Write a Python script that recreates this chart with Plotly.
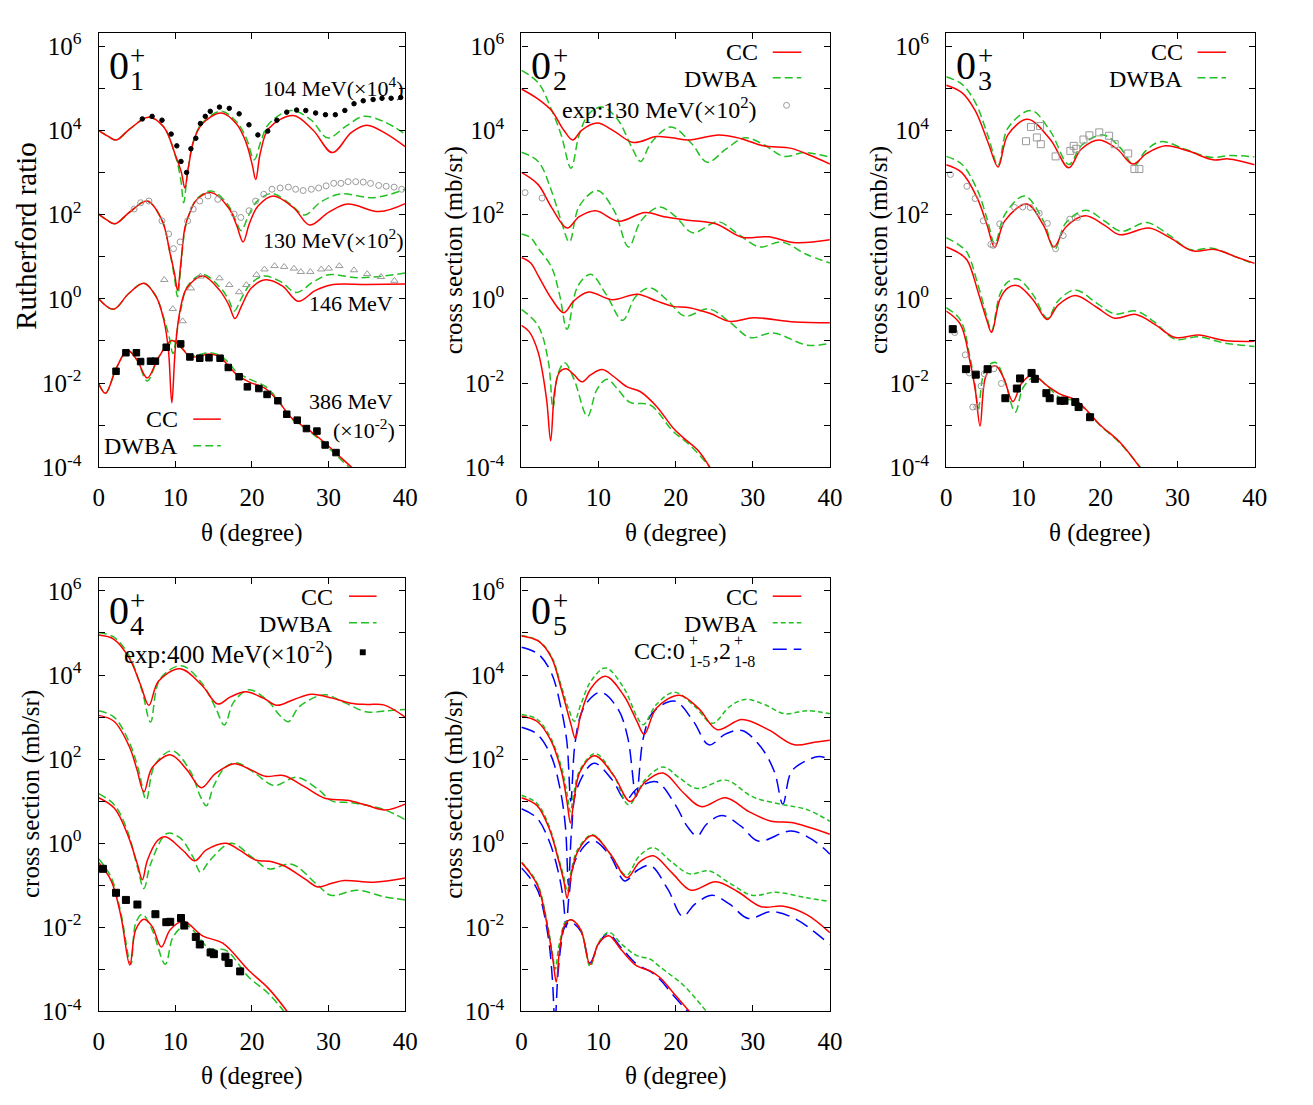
import plotly.graph_objects as go

# ------------------------------------------------------------------
# DATA  (angles in degree, values given as log10 of the plotted value)
# ------------------------------------------------------------------
X_TICKS = [0, 10, 20, 30, 40]
Y_EXPONENTS = list(range(-4, 7))

# ---- panel 1 : 0_1^+  (Rutherford ratio) ----
P1_TH_104_CC = [0, 1.2, 2.3, 4.0, 6.5, 8.5, 10.0, 10.8, 11.25, 11.7, 12.4, 13.5, 16.0, 18.0, 19.2, 20.05, 20.5, 21.1, 22.2, 25.4, 28.0, 30.5, 33.0, 35.0, 37.5, 40]
P1_LG_104_CC = [4.00, 3.86, 3.77, 4.02, 4.31, 4.08, 3.42, 3.00, 2.63, 3.10, 3.75, 4.15, 4.41, 4.15, 3.73, 3.18, 2.83, 3.46, 4.04, 4.35, 4.00, 3.47, 3.95, 4.12, 3.92, 3.61]
P1_TH_104_DW = [0, 1.2, 2.3, 4.0, 6.5, 8.5, 10.0, 10.7, 11.1, 11.6, 12.4, 13.5, 16.0, 18.0, 19.3, 20.3, 21.2, 22.2, 25.1, 27.7, 29.9, 32.3, 34.6, 37.3, 40]
P1_LG_104_DW = [4.00, 3.86, 3.77, 4.02, 4.31, 4.08, 3.40, 2.85, 2.28, 3.00, 3.75, 4.17, 4.45, 4.20, 3.80, 3.30, 3.75, 4.15, 4.47, 4.25, 3.82, 4.10, 4.33, 4.20, 3.91]
P1_TH_104_EXP = [5.70, 6.98, 8.27, 9.47, 10.2, 10.75, 11.48, 12.04, 12.68, 13.28, 13.92, 14.57, 15.77, 17.05, 18.34, 19.62, 20.78, 22.07, 23.26, 24.55, 25.84, 27.03, 28.32, 29.6, 30.89, 32.13, 33.33, 34.53, 35.82, 36.98, 38.17, 39.42]
P1_LG_104_EXP = [4.27, 4.33, 4.24, 3.91, 3.63, 3.26, 3.00, 3.56, 3.81, 4.16, 4.33, 4.45, 4.55, 4.52, 4.39, 4.13, 3.89, 3.98, 4.24, 4.43, 4.48, 4.47, 4.41, 4.37, 4.37, 4.47, 4.63, 4.70, 4.73, 4.76, 4.76, 4.78]

P1_TH_130_CC = [0, 1.0, 2.14, 4.0, 6.34, 8.3, 9.3, 9.9, 10.3, 10.7, 11.27, 11.9, 12.8, 14.7, 17.0, 18.0, 18.85, 19.7, 20.8, 22.8, 25.5, 27.55, 30.0, 32.5, 36.6, 40]
P1_LG_130_CC = [2.01, 1.88, 1.78, 2.05, 2.32, 1.85, 1.10, 0.60, 0.20, 0.80, 1.70, 2.05, 2.35, 2.52, 2.15, 1.75, 1.35, 1.80, 2.20, 2.44, 2.15, 1.75, 2.05, 2.25, 2.07, 2.26]
P1_TH_130_DW = [0, 1.0, 2.14, 4.0, 6.34, 8.3, 9.3, 9.9, 10.3, 10.7, 11.27, 11.9, 12.8, 14.7, 16.8, 17.8, 18.6, 19.5, 20.6, 22.6, 25.0, 26.9, 29.0, 31.6, 35.9, 40]
P1_LG_130_DW = [2.01, 1.88, 1.78, 2.05, 2.32, 1.85, 1.10, 0.50, 0.05, 0.70, 1.65, 2.05, 2.37, 2.56, 2.25, 1.90, 1.62, 1.95, 2.30, 2.50, 2.25, 1.99, 2.30, 2.49, 2.40, 2.60]
P1_TH_130_EXP = [4.63, 5.49, 6.56, 8.27, 9.13, 9.77, 10.63, 11.61, 12.34, 13.2, 14.27, 15.55, 17.69, 18.55, 19.62, 20.48, 21.55, 22.62, 23.69, 24.76, 25.71, 26.69, 27.76, 28.71, 29.69, 30.68, 31.62, 32.56, 33.55, 34.53, 35.48, 36.55, 37.53, 38.56, 39.55]
P1_LG_130_EXP = [2.13, 2.28, 2.32, 1.85, 1.54, 1.19, 1.35, 1.85, 2.13, 2.32, 2.44, 2.36, 2.01, 1.93, 2.09, 2.32, 2.48, 2.60, 2.63, 2.65, 2.60, 2.57, 2.60, 2.63, 2.68, 2.74, 2.74, 2.78, 2.78, 2.77, 2.74, 2.69, 2.67, 2.65, 2.60]

P1_TH_146_CC = [0, 1.93, 3.9, 5.9, 7.5, 8.5, 9.1, 9.55, 10.0, 10.6, 11.5, 13.6, 15.8, 17.0, 17.8, 18.7, 19.9, 21.8, 24.0, 26.05, 28.3, 30.3, 35.0, 40]
P1_LG_146_CC = [0.0, -0.25, 0.12, 0.37, 0.05, -0.5, -1.2, -2.47, -1.2, -0.3, 0.25, 0.54, 0.2, -0.15, -0.47, -0.15, 0.25, 0.45, 0.3, -0.06, 0.2, 0.33, 0.34, 0.35]
P1_TH_146_DW = [0, 1.93, 3.9, 5.9, 7.5, 8.5, 9.2, 9.7, 10.2, 10.8, 11.6, 13.6, 15.8, 16.9, 17.7, 18.6, 19.8, 21.6, 23.8, 25.8, 28.0, 30.0, 34.0, 40]
P1_LG_146_DW = [0.0, -0.25, 0.12, 0.37, 0.05, -0.45, -0.9, -1.3, -0.8, -0.2, 0.3, 0.58, 0.28, 0.0, -0.29, 0.0, 0.35, 0.54, 0.4, 0.15, 0.4, 0.57, 0.50, 0.61]
P1_TH_146_EXP = [8.57, 9.68, 10.97, 12.04, 13.28, 15.77, 17.05, 18.34, 19.28, 20.61, 21.64, 22.96, 24.21, 25.49, 26.39, 27.63, 29.05, 30.03, 31.41, 33.33, 35.05, 36.85, 38.6]
P1_LG_146_EXP = [0.45, -0.24, -0.53, 0.25, 0.53, 0.49, 0.33, 0.16, 0.33, 0.57, 0.70, 0.78, 0.76, 0.72, 0.64, 0.64, 0.70, 0.72, 0.78, 0.68, 0.59, 0.52, 0.43]

P1_TH_386 = [0, 0.9, 2.3, 3.77, 5.0, 6.34, 7.8, 9.55, 11.0, 11.9, 13.0, 14.48, 15.77, 17.0, 17.9, 19.6, 21.77, 23.48, 25.19, 27.33, 29.48, 31.62, 33.33]
P1_LG_386_CC = [-2.01, -2.24, -1.65, -1.23, -1.45, -1.88, -1.4, -0.99, -1.2, -1.38, -1.37, -1.31, -1.38, -1.6, -1.78, -1.97, -2.13, -2.44, -2.83, -3.10, -3.41, -3.77, -4.05]
P1_LG_386_DW = [-2.01, -2.24, -1.65, -1.23, -1.45, -1.95, -1.4, -0.99, -1.2, -1.36, -1.33, -1.28, -1.34, -1.52, -1.72, -1.90, -2.08, -2.42, -2.85, -3.12, -3.45, -3.82, -4.10]
P1_TH_386_EXP = [2.27, 3.56, 4.93, 5.48, 6.77, 7.41, 8.82, 10.71, 11.91, 13.2, 14.4, 15.85, 16.92, 18.34, 19.41, 20.91, 21.98, 23.39, 24.55, 25.92, 27.12, 28.49, 29.56, 30.98]
P1_LG_386_EXP = [-1.72, -1.28, -1.28, -1.49, -1.48, -1.48, -1.15, -1.07, -1.38, -1.41, -1.40, -1.41, -1.63, -1.85, -2.09, -2.13, -2.27, -2.42, -2.74, -2.88, -3.08, -3.14, -3.47, -3.65]

# ---- panel 2 : 0_2^+ ----
P2_TH_G1_CC = [0, 2.17, 3.9, 5.5, 6.65, 7.8, 9.84, 12.0, 14.5, 17.5, 19.5, 21.77, 25.6, 28.5, 31.35, 35.0, 37.5, 40]
P2_LG_G1_CC = [4.98, 4.74, 4.47, 4.00, 3.77, 4.00, 4.17, 3.98, 3.71, 3.85, 3.82, 3.77, 3.89, 3.80, 3.63, 3.57, 3.40, 3.20]
P2_TH_G1_DW = [0, 2.17, 3.9, 5.15, 6.43, 7.5, 8.8, 10.5, 12.5, 14.3, 15.46, 16.8, 19.4, 22.0, 24.1, 26.5, 29.0, 31.5, 34.0, 36.7, 40]
P2_LG_G1_DW = [5.42, 5.13, 4.49, 3.89, 3.10, 3.90, 4.40, 4.55, 4.25, 3.60, 3.26, 3.70, 4.08, 3.70, 3.24, 3.55, 3.82, 3.65, 3.38, 3.47, 3.36]
P2_TH_G2_CC = [0, 2.17, 3.9, 5.92, 7.5, 9.63, 12.61, 16.02, 18.5, 21.35, 25.2, 28.6, 32.0, 35.6, 40]
P2_LG_G2_CC = [3.00, 2.71, 2.17, 1.68, 1.95, 2.09, 1.84, 2.05, 1.95, 1.87, 1.78, 1.46, 1.47, 1.33, 1.40]
P2_TH_G2_DW = [0, 2.17, 3.9, 5.15, 6.22, 7.5, 9.84, 12.0, 13.9, 15.5, 17.93, 20.0, 22.2, 25.5, 28.0, 30.9, 33.7, 37.0, 40]
P2_LG_G2_DW = [3.48, 3.26, 2.56, 1.85, 1.35, 2.20, 2.57, 2.10, 1.23, 1.85, 2.18, 1.95, 1.57, 1.83, 1.55, 1.23, 1.35, 1.05, 0.85]
P2_TH_G3_CC = [0, 1.2, 2.17, 3.9, 5.5, 6.8, 8.69, 11.76, 15.04, 17.5, 19.64, 21.77, 24.5, 27.1, 30.1, 35.4, 40]
P2_LG_G3_CC = [0.98, 0.85, 0.55, 0.0, -0.33, -0.05, 0.16, -0.02, 0.11, -0.05, -0.18, -0.21, -0.35, -0.54, -0.45, -0.55, -0.57]
P2_TH_G3_DW = [0, 1.2, 2.17, 3.9, 4.94, 5.92, 7.3, 8.99, 11.0, 13.12, 14.8, 16.66, 19.0, 21.13, 24.3, 27.0, 29.65, 32.6, 37.1, 40]
P2_LG_G3_DW = [1.54, 1.45, 1.20, 0.75, 0.10, -0.72, 0.30, 0.58, 0.10, -0.51, 0.05, 0.26, -0.05, -0.41, -0.24, -0.55, -0.92, -0.81, -1.10, -1.06]
P2_TH_G4_CC = [0, 1.0, 2.17, 3.24, 3.79, 4.3, 4.94, 5.8, 6.8, 7.84, 9.0, 10.48, 12.0, 13.7, 15.38, 17.5, 19.64, 21.0, 22.86, 24.6]
P2_LG_G4_CC = [-0.63, -0.78, -1.27, -2.36, -3.37, -2.20, -1.74, -1.66, -1.80, -1.97, -1.80, -1.68, -1.85, -2.09, -2.20, -2.55, -3.06, -3.30, -3.59, -4.05]
P2_TH_G4_DW = [0, 2.17, 3.5, 4.09, 4.7, 5.6, 6.8, 8.56, 9.8, 11.12, 12.5, 14.1, 16.7, 19.64, 22.0, 24.7]
P2_LG_G4_DW = [-0.25, -0.64, -1.50, -2.60, -1.80, -1.52, -1.90, -2.79, -2.15, -1.91, -2.15, -2.46, -2.52, -3.14, -3.50, -4.05]
P2_TH_EXP = [0.47, 2.68]
P2_LG_EXP = [2.52, 2.39]

# ---- panel 3 : 0_3^+ ----
P3_TH_G1_CC = [0, 2.0, 3.75, 5.45, 6.73, 8.0, 10.56, 13.5, 15.89, 17.5, 19.85, 22.2, 24.2, 26.0, 28.45, 31.5, 34.6, 36.6, 40]
P3_LG_G1_CC = [5.07, 4.90, 4.47, 3.70, 3.13, 3.89, 4.26, 3.78, 3.11, 3.55, 3.77, 3.55, 3.20, 3.45, 3.63, 3.50, 3.30, 3.32, 3.18]
P3_TH_G1_DW = [0, 2.0, 3.75, 5.45, 6.73, 8.0, 11.0, 13.5, 15.9, 17.6, 20.36, 22.5, 24.4, 25.8, 27.8, 31.0, 34.3, 36.8, 40]
P3_LG_G1_DW = [5.27, 5.10, 4.67, 3.85, 3.17, 4.05, 4.47, 3.98, 3.19, 3.65, 3.89, 3.60, 3.17, 3.50, 3.73, 3.55, 3.36, 3.40, 3.37]
P3_TH_G1_EXP = [10.35, 10.99, 11.76, 12.18, 12.27, 14.19, 16.1, 16.53, 16.87, 17.8, 18.57, 19.85, 21.13, 21.85, 23.6, 24.41, 25.05]
P3_LG_G1_EXP = [3.74, 4.08, 3.83, 4.10, 3.67, 3.38, 3.51, 3.63, 3.56, 3.78, 3.88, 3.95, 3.87, 3.67, 3.45, 3.08, 3.08]
P3_TH_G2_CC = [0, 2.0, 4.0, 5.3, 6.3, 7.6, 10.48, 12.6, 13.97, 15.5, 18.02, 20.5, 22.5, 26.3, 29.0, 31.9, 34.85, 37.5, 40]
P3_LG_G2_CC = [3.18, 3.00, 2.40, 1.75, 1.22, 1.85, 2.25, 1.75, 1.23, 1.70, 1.97, 1.75, 1.52, 1.68, 1.45, 1.14, 1.17, 1.00, 0.84]
P3_TH_G2_DW = [0, 2.0, 4.0, 5.3, 6.3, 7.6, 10.14, 12.6, 14.05, 15.5, 18.1, 20.5, 22.7, 26.0, 29.0, 31.6, 34.5, 37.5, 40]
P3_LG_G2_DW = [3.38, 3.20, 2.60, 1.90, 1.31, 2.00, 2.44, 1.85, 1.17, 1.80, 2.10, 1.85, 1.60, 1.81, 1.50, 1.17, 1.20, 1.00, 0.82]
P3_TH_G2_EXP = [0.55, 2.68, 3.75, 4.81, 5.79, 6.09, 6.94, 8.86, 9.92, 10.9, 12.06, 13.12, 14.19, 15.17, 16.02, 17.04]
P3_LG_G2_EXP = [2.95, 2.67, 2.38, 1.85, 1.29, 1.27, 1.78, 2.17, 2.18, 2.17, 2.03, 1.79, 1.19, 1.50, 1.89, 1.93]
P3_TH_G3 = [0, 1.5, 2.7, 4.17, 5.24, 5.88, 6.95, 8.0, 9.3, 11.25, 13.12, 14.5, 16.74, 19.5, 21.85, 24.6, 27.0, 29.7, 32.7, 36.1, 40]
P3_LG_G3_CC = [1.23, 1.10, 0.92, 0.14, -0.49, -0.80, -0.02, 0.26, 0.31, -0.02, -0.49, -0.15, 0.08, -0.20, -0.46, -0.37, -0.60, -0.92, -0.86, -0.99, -1.01]
P3_LG_G3_DW = [1.45, 1.30, 1.10, 0.30, -0.40, -0.77, 0.10, 0.40, 0.47, 0.10, -0.46, -0.05, 0.21, -0.10, -0.36, -0.29, -0.55, -0.96, -0.90, -1.05, -1.13]
P3_TH_G4_CC = [0, 1.83, 3.1, 3.8, 4.39, 5.05, 5.88, 6.5, 7.5, 8.65, 9.8, 11.2, 13.0, 14.85, 16.74, 18.5, 19.93, 22.5, 25.3]
P3_LG_G4_CC = [-0.29, -0.60, -1.50, -2.20, -3.02, -1.89, -1.62, -1.60, -1.90, -2.44, -2.00, -1.81, -2.05, -2.27, -2.40, -2.70, -2.99, -3.40, -4.05]
P3_TH_G4_DW = [0, 1.83, 3.1, 3.7, 4.18, 4.9, 5.88, 6.5, 7.6, 8.95, 10.0, 11.5, 13.0, 14.85, 16.74, 18.5, 19.93, 22.5, 25.4]
P3_LG_G4_DW = [-0.21, -0.50, -1.40, -2.00, -2.60, -1.75, -1.53, -1.52, -1.95, -2.69, -2.10, -1.85, -2.05, -2.36, -2.42, -2.72, -3.00, -3.42, -4.05]
P3_TH_G4_SQ = [0.85, 2.56, 3.83, 5.37, 7.67, 9.16, 9.58, 11.07, 11.5, 12.99, 13.42, 14.83, 15.34, 16.74, 17.17, 18.66]
P3_LG_G4_SQ = [-0.72, -1.67, -1.80, -1.67, -2.36, -2.13, -1.89, -1.76, -1.90, -2.24, -2.36, -2.42, -2.42, -2.45, -2.57, -2.81]
P3_TH_G4_CI = [1.11, 2.47, 3.0, 3.45, 3.96, 4.52, 4.94, 6.18, 7.16]
P3_LG_G4_CI = [-0.80, -1.33, -1.76, -2.57, -2.57, -2.07, -1.78, -1.66, -2.01]

# ---- panel 4 : 0_4^+ ----
P4_TH_G1_CC = [0, 2.0, 4.0, 5.5, 6.56, 7.8, 10.63, 13.5, 15.55, 17.2, 19.2, 21.5, 23.26, 25.5, 27.76, 30.5, 32.9, 35.0, 37.2, 40]
P4_LG_G1_CC = [4.95, 4.85, 4.40, 3.75, 3.28, 3.85, 4.15, 3.75, 3.31, 3.48, 3.60, 3.45, 3.28, 3.42, 3.54, 3.45, 3.33, 3.30, 3.29, 3.00]
P4_TH_G1_DW = [0, 2.0, 4.0, 5.7, 6.77, 8.0, 10.8, 13.5, 15.3, 16.41, 17.6, 19.6, 22.0, 23.6, 24.76, 26.2, 29.5, 32.0, 35.05, 37.5, 40]
P4_LG_G1_DW = [5.01, 4.90, 4.45, 3.60, 2.88, 3.90, 4.22, 3.80, 3.20, 2.81, 3.35, 3.65, 3.40, 3.05, 2.89, 3.25, 3.53, 3.35, 3.12, 3.15, 3.18]
P4_TH_G2_CC = [0, 2.0, 4.0, 5.0, 5.91, 7.0, 9.43, 11.5, 13.41, 15.2, 17.7, 19.8, 21.77, 24.1, 26.8, 29.5, 32.5, 35.0, 37.4, 40]
P4_LG_G2_CC = [3.04, 2.90, 2.30, 1.75, 1.22, 1.80, 2.10, 1.75, 1.32, 1.65, 1.89, 1.75, 1.59, 1.61, 1.35, 1.07, 1.02, 0.90, 0.79, 0.93]
P4_TH_G2_DW = [0, 2.0, 4.0, 5.2, 6.21, 7.3, 9.6, 12.0, 13.3, 14.05, 15.0, 16.5, 18.1, 20.5, 22.9, 25.8, 28.5, 30.5, 32.5, 35.0, 37.4, 40]
P4_LG_G2_DW = [3.15, 3.00, 2.40, 1.75, 1.03, 1.85, 2.20, 1.70, 1.10, 0.89, 1.35, 1.80, 1.91, 1.65, 1.37, 1.57, 1.30, 1.00, 0.97, 0.90, 0.79, 0.56]
P4_TH_G3_CC = [0, 2.06, 3.77, 5.06, 5.70, 6.34, 7.63, 8.70, 11.05, 12.55, 14.05, 16.62, 18.34, 20.48, 22.62, 24.33, 26.9, 28.6, 30.33, 32.05, 35.9, 40]
P4_LG_G3_CC = [1.08, 0.83, 0.21, -0.50, -0.87, -0.42, 0.05, 0.15, -0.18, -0.42, -0.16, 0.00, -0.16, -0.40, -0.44, -0.55, -0.85, -1.04, -0.96, -0.89, -0.93, -0.83]
P4_TH_G3_DW = [0, 2.06, 3.77, 5.06, 5.91, 6.77, 8.91, 10.6, 12.34, 13.28, 14.48, 17.27, 20.05, 22.19, 25.19, 28.6, 30.33, 33.76, 37.19, 40]
P4_LG_G3_DW = [1.18, 0.91, 0.29, -0.57, -1.08, -0.50, 0.23, 0.13, -0.34, -0.69, -0.42, 0.00, -0.34, -0.61, -0.50, -1.00, -1.24, -1.12, -1.27, -1.35]
P4_TH_G4_CC = [0, 1.63, 2.91, 4.07, 4.84, 5.91, 6.98, 8.18, 9.34, 11.05, 13.62, 16.2, 19.6, 22.19, 24.8]
P4_LG_G4_CC = [-0.46, -0.89, -1.74, -2.90, -2.06, -1.81, -1.98, -2.47, -2.06, -1.86, -2.21, -2.38, -3.03, -3.46, -4.05]
P4_TH_G4_DW = [0, 1.63, 2.91, 4.2, 4.84, 5.7, 6.98, 8.7, 9.77, 11.48, 14.48, 16.62, 19.6, 22.19, 24.4]
P4_LG_G4_DW = [-0.37, -0.81, -1.67, -2.88, -1.90, -1.69, -2.06, -2.88, -2.21, -1.96, -2.51, -2.55, -3.19, -3.58, -4.05]
P4_TH_EXP = [0.56, 2.27, 3.56, 5.06, 7.41, 8.83, 9.34, 10.75, 11.18, 12.68, 13.2, 14.61, 15.04, 16.54, 16.97, 18.47]
P4_LG_EXP = [-0.61, -1.18, -1.35, -1.46, -1.69, -1.88, -1.87, -1.78, -1.96, -2.23, -2.41, -2.60, -2.64, -2.70, -2.85, -3.05]

# ---- panel 5 : 0_5^+ ----
P5_TH_G1_CC = [0, 2.17, 3.88, 5.15, 6.43, 6.99, 7.7, 9.0, 10.9, 13.25, 14.95, 15.93, 17.5, 20.5, 23.0, 25.4, 28.6, 32.0, 35.4, 38.0, 40]
P5_LG_G1_CC = [4.93, 4.81, 4.42, 3.68, 2.82, 2.49, 3.06, 3.68, 3.97, 3.52, 2.91, 2.59, 3.21, 3.52, 3.20, 2.70, 2.94, 2.70, 2.34, 2.40, 2.45]
P5_TH_G1_DW = [0, 2.17, 3.88, 5.15, 6.2, 6.86, 7.7, 9.0, 10.9, 13.25, 15.0, 15.8, 17.5, 19.85, 22.5, 24.75, 27.0, 29.0, 31.5, 34.1, 37.0, 40]
P5_LG_G1_DW = [4.94, 4.82, 4.45, 3.75, 3.15, 2.90, 3.30, 3.85, 4.17, 3.70, 3.00, 2.82, 3.30, 3.59, 3.25, 2.85, 3.25, 3.42, 3.30, 3.08, 3.15, 3.08]
P5_TH_G1_BL = [0, 2.17, 3.88, 5.15, 5.9, 6.4, 6.9, 7.6, 8.5, 10.27, 12.5, 13.8, 14.87, 15.8, 17.0, 19.85, 22.3, 24.3, 26.5, 28.6, 31.0, 32.8, 33.9, 35.0, 36.8, 38.6, 40]
P5_LG_G1_BL = [4.66, 4.50, 4.05, 3.20, 2.40, 1.00, 2.30, 3.00, 3.35, 3.59, 3.20, 2.50, 1.11, 2.50, 3.10, 3.38, 2.90, 2.34, 2.60, 2.68, 2.30, 1.70, 0.93, 1.70, 1.95, 2.06, 1.99]
P5_TH_G2_CC = [0, 2.0, 3.8, 5.2, 5.9, 6.35, 6.8, 7.6, 9.5, 12.0, 14.1, 16.0, 18.36, 21.0, 23.3, 26.5, 29.5, 32.4, 35.0, 40]
P5_LG_G2_CC = [3.02, 2.90, 2.45, 1.70, 1.00, 0.48, 1.00, 1.70, 2.08, 1.60, 0.99, 1.45, 1.67, 1.20, 0.87, 1.08, 0.75, 0.52, 0.49, 0.21]
P5_TH_G2_DW = [0, 2.0, 3.8, 5.2, 5.9, 6.35, 6.8, 7.6, 9.6, 12.0, 13.9, 16.0, 18.36, 20.5, 22.8, 26.5, 30.0, 34.1, 37.0, 40]
P5_LG_G2_DW = [3.06, 2.95, 2.50, 1.80, 1.20, 0.75, 1.20, 1.75, 2.13, 1.60, 0.91, 1.50, 1.81, 1.55, 1.30, 1.50, 1.10, 0.91, 0.80, 0.52]
P5_TH_G2_BL = [0, 2.0, 3.8, 5.0, 5.7, 6.1, 6.5, 7.2, 9.4, 11.8, 13.5, 15.0, 17.5, 20.0, 21.5, 22.8, 24.0, 26.0, 28.5, 30.7, 35.0, 38.0, 40]
P5_LG_G2_BL = [2.76, 2.60, 2.10, 1.30, 0.40, -1.00, 0.30, 1.30, 1.90, 1.50, 1.03, 1.30, 1.46, 0.90, 0.40, 0.17, 0.45, 0.66, 0.40, 0.05, 0.29, 0.05, -0.26]
P5_TH_G3_CC = [0, 2.0, 3.6, 4.8, 5.5, 5.92, 6.4, 7.3, 9.2, 11.5, 13.7, 15.3, 17.1, 19.5, 22.0, 25.2, 28.0, 31.1, 34.0, 37.0, 40]
P5_LG_G3_CC = [1.08, 0.90, 0.35, -0.40, -0.90, -1.31, -0.80, -0.20, 0.18, -0.25, -0.82, -0.45, -0.30, -0.70, -1.12, -0.92, -1.15, -1.51, -1.50, -1.70, -2.13]
P5_TH_G3_DW = [0, 2.0, 3.6, 4.8, 5.5, 5.95, 6.4, 7.3, 9.2, 11.5, 13.6, 15.3, 17.1, 19.5, 21.8, 24.3, 27.0, 29.9, 33.0, 37.0, 40]
P5_LG_G3_DW = [1.14, 0.95, 0.40, -0.35, -0.80, -1.15, -0.70, -0.15, 0.20, -0.25, -0.76, -0.30, -0.11, -0.45, -0.73, -0.66, -0.95, -1.24, -1.17, -1.30, -1.39]
P5_TH_G3_BL = [0, 2.0, 3.6, 4.8, 5.4, 5.8, 6.2, 7.0, 9.2, 11.5, 13.4, 15.0, 16.7, 19.0, 20.9, 22.5, 24.75, 27.0, 29.4, 32.4, 35.5, 40]
P5_LG_G3_BL = [0.82, 0.60, 0.05, -0.70, -1.30, -2.00, -1.20, -0.40, 0.06, -0.30, -0.90, -0.65, -0.53, -1.10, -1.74, -1.45, -1.24, -1.45, -1.79, -1.63, -1.80, -2.41]
P5_TH_G4_CC = [0, 1.0, 2.17, 3.45, 4.1, 4.51, 4.9, 5.15, 5.6, 6.43, 7.7, 8.9, 10.05, 11.33, 13.0, 14.96, 16.7, 18.0, 19.6, 22.0]
P5_LG_G4_CC = [-0.46, -0.68, -1.04, -2.06, -2.80, -3.30, -2.60, -2.29, -1.95, -1.82, -2.06, -2.88, -2.37, -2.20, -2.55, -2.92, -3.04, -3.20, -3.54, -4.05]
P5_TH_G4_DW = [0, 1.0, 2.17, 3.45, 4.0, 4.4, 4.8, 5.15, 5.6, 6.43, 7.7, 8.9, 10.05, 11.33, 13.0, 14.9, 16.7, 18.0, 21.0, 24.2]
P5_LG_G4_DW = [-0.45, -0.66, -1.00, -2.00, -2.60, -3.00, -2.50, -2.20, -1.90, -1.82, -2.06, -2.93, -2.35, -2.12, -2.40, -2.67, -2.76, -2.95, -3.38, -4.05]
P5_TH_G4_BL = [0, 1.0, 2.17, 3.45, 4.0, 4.35, 4.7, 5.15, 5.6, 6.3, 7.7, 8.9, 10.0, 11.2, 13.0, 14.96, 16.7, 18.0, 19.6, 21.8]
P5_LG_G4_BL = [-0.59, -0.80, -1.15, -2.20, -3.20, -4.30, -3.20, -2.40, -2.00, -1.87, -2.10, -2.84, -2.40, -2.15, -2.50, -2.88, -3.05, -3.25, -3.60, -4.05]

# ------------------------------------------------------------------
# STYLE / LAYOUT
# ------------------------------------------------------------------
W, H = 1313, 1105
FONT = "Liberation Serif"
RED, GREEN, BLUE, GREY = "#ff0000", "#22c022", "#0000ff", "#9a9a9a"
DASH_G = "8px,4px"
DASH_G5 = "5px,3px"
DASH_B = "14px,7px"

BOX = {1: (94, 405, 29, 471), 2: (523, 836, 29, 471), 3: (954, 1267, 29, 471),
       4: (94, 405, 583, 1024), 5: (523, 836, 583, 1024)}

fig = go.Figure()


def axes(k):
    return ("x", "y") if k == 1 else (f"x{k}", f"y{k}")


def curve(k, th, lg, color, dash="solid", width=1.5):
    xa, ya = axes(k)
    fig.add_trace(go.Scatter(
        x=th, y=[10 ** v for v in lg], mode="lines", xaxis=xa, yaxis=ya,
        line=dict(color=color, dash=dash, width=width, shape="spline", smoothing=1.0),
        showlegend=False, hoverinfo="skip"))


def points(k, th, lg, symbol, color, size):
    xa, ya = axes(k)
    fig.add_trace(go.Scatter(
        x=th, y=[10 ** v for v in lg], mode="markers", xaxis=xa, yaxis=ya,
        marker=dict(symbol=symbol, color=color, size=size, line=dict(color=color, width=1)),
        showlegend=False, hoverinfo="skip", cliponaxis=True))


# panel 1
curve(1, P1_TH_104_DW, P1_LG_104_DW, GREEN, DASH_G)
curve(1, P1_TH_104_CC, P1_LG_104_CC, RED)
curve(1, P1_TH_130_DW, P1_LG_130_DW, GREEN, DASH_G)
curve(1, P1_TH_130_CC, P1_LG_130_CC, RED)
curve(1, P1_TH_146_DW, P1_LG_146_DW, GREEN, DASH_G)
curve(1, P1_TH_146_CC, P1_LG_146_CC, RED)
curve(1, P1_TH_386, P1_LG_386_DW, GREEN, DASH_G)
curve(1, P1_TH_386, P1_LG_386_CC, RED)
points(1, P1_TH_104_EXP, P1_LG_104_EXP, "circle", "black", 4.5)
points(1, P1_TH_130_EXP, P1_LG_130_EXP, "circle-open", GREY, 6)
points(1, P1_TH_146_EXP, P1_LG_146_EXP, "triangle-up-open", GREY, 6.5)
points(1, P1_TH_386_EXP, P1_LG_386_EXP, "square", "black", 6.5)

# panel 2
for th_c, lg_c, th_d, lg_d in [(P2_TH_G1_CC, P2_LG_G1_CC, P2_TH_G1_DW, P2_LG_G1_DW),
                               (P2_TH_G2_CC, P2_LG_G2_CC, P2_TH_G2_DW, P2_LG_G2_DW),
                               (P2_TH_G3_CC, P2_LG_G3_CC, P2_TH_G3_DW, P2_LG_G3_DW),
                               (P2_TH_G4_CC, P2_LG_G4_CC, P2_TH_G4_DW, P2_LG_G4_DW)]:
    curve(2, th_d, lg_d, GREEN, DASH_G)
    curve(2, th_c, lg_c, RED)
points(2, P2_TH_EXP, P2_LG_EXP, "circle-open", GREY, 6)

# panel 3
for th_c, lg_c, th_d, lg_d in [(P3_TH_G1_CC, P3_LG_G1_CC, P3_TH_G1_DW, P3_LG_G1_DW),
                               (P3_TH_G2_CC, P3_LG_G2_CC, P3_TH_G2_DW, P3_LG_G2_DW),
                               (P3_TH_G3, P3_LG_G3_CC, P3_TH_G3, P3_LG_G3_DW),
                               (P3_TH_G4_CC, P3_LG_G4_CC, P3_TH_G4_DW, P3_LG_G4_DW)]:
    curve(3, th_d, lg_d, GREEN, DASH_G)
    curve(3, th_c, lg_c, RED)
points(3, P3_TH_G1_EXP, P3_LG_G1_EXP, "square-open", GREY, 7)
points(3, P3_TH_G2_EXP, P3_LG_G2_EXP, "circle-open", GREY, 6)
points(3, P3_TH_G4_CI, P3_LG_G4_CI, "circle-open", GREY, 6)
points(3, P3_TH_G4_SQ, P3_LG_G4_SQ, "square", "black", 7)

# panel 4
for th_c, lg_c, th_d, lg_d in [(P4_TH_G1_CC, P4_LG_G1_CC, P4_TH_G1_DW, P4_LG_G1_DW),
                               (P4_TH_G2_CC, P4_LG_G2_CC, P4_TH_G2_DW, P4_LG_G2_DW),
                               (P4_TH_G3_CC, P4_LG_G3_CC, P4_TH_G3_DW, P4_LG_G3_DW),
                               (P4_TH_G4_CC, P4_LG_G4_CC, P4_TH_G4_DW, P4_LG_G4_DW)]:
    curve(4, th_d, lg_d, GREEN, DASH_G)
    curve(4, th_c, lg_c, RED)
points(4, P4_TH_EXP, P4_LG_EXP, "square", "black", 7)

# panel 5
for th_c, lg_c, th_d, lg_d, th_b, lg_b in [
        (P5_TH_G1_CC, P5_LG_G1_CC, P5_TH_G1_DW, P5_LG_G1_DW, P5_TH_G1_BL, P5_LG_G1_BL),
        (P5_TH_G2_CC, P5_LG_G2_CC, P5_TH_G2_DW, P5_LG_G2_DW, P5_TH_G2_BL, P5_LG_G2_BL),
        (P5_TH_G3_CC, P5_LG_G3_CC, P5_TH_G3_DW, P5_LG_G3_DW, P5_TH_G3_BL, P5_LG_G3_BL),
        (P5_TH_G4_CC, P5_LG_G4_CC, P5_TH_G4_DW, P5_LG_G4_DW, P5_TH_G4_BL, P5_LG_G4_BL)]:
    curve(5, th_b, lg_b, BLUE, DASH_B)
    curve(5, th_d, lg_d, GREEN, DASH_G5)
    curve(5, th_c, lg_c, RED)

# axes
tickfont = dict(family=FONT, size=25, color="black")
for k, (x0, x1, y0, y1) in BOX.items():
    s = "" if k == 1 else str(k)
    fig.update_layout(**{
        f"xaxis{s}": dict(domain=[x0 / W, x1 / W], range=[0, 40], anchor=f"y{s}",
                          tickvals=X_TICKS, ticktext=[str(v) for v in X_TICKS],
                          ticks="inside", ticklen=6, tickcolor="black", showline=True,
                          linecolor="black", linewidth=1.2, mirror="ticks", showgrid=False,
                          zeroline=False, tickfont=tickfont, ticklabelstandoff=8),
        f"yaxis{s}": dict(domain=[1 - y1 / H, 1 - y0 / H], type="log", range=[-4, 6.32],
                          anchor=f"x{s}", tickvals=[10.0 ** e for e in Y_EXPONENTS],
                          ticktext=[f"10<sup>{e}</sup>" if e % 2 == 0 else "" for e in Y_EXPONENTS],
                          ticks="inside", ticklen=6, tickcolor="black", showline=True,
                          linecolor="black", linewidth=1.2, mirror="ticks", showgrid=False,
                          zeroline=False, tickfont=tickfont, ticklabelstandoff=11),
    })


def text(px, py, t, size=22, xanchor="center", angle=0, align="center"):
    fig.add_annotation(x=px / W, y=1 - py / H, xref="paper", yref="paper", text=t,
                       showarrow=False, xanchor=xanchor, yanchor="middle", textangle=angle,
                       align=align, borderpad=0,
                       font=dict(family=FONT, size=size, color="black"))


def sample(px0, px1, py, color, dash):
    fig.add_shape(type="line", xref="paper", yref="paper", x0=px0 / W, x1=px1 / W,
                  y0=1 - py / H, y1=1 - py / H, line=dict(color=color, width=1.5, dash=dash))


# axis titles
for k, (x0, x1, y0, y1) in BOX.items():
    yb = 538 if y0 < 300 else 1090
    text((x0 + x1) / 2, yb, "θ (degree)", 25)
    if k == 1:
        text(20, 236, "Rutherford ratio", 29, angle=-90)
    else:
        text(x0 - 68, (y0 + y1) / 2, "cross section (mb/sr)", 25, angle=-90)

# state labels 0_n^+  (superscript "+" stacked over the subscript)
for k, sub in zip([1, 2, 3, 4, 5], ["1", "2", "3", "4", "5"]):
    x0, x1, y0, y1 = BOX[k]
    text(x0 + 9, y0 + 34, "0", 40, "left")
    text(x0 + 31, y0 + 37,
         f"<span style='font-size:27px'>+</span><br><span style='font-size:28px'>{sub}</span>",
         19, "left", align="left")

# panel 1 texts
text(404, 84, "104 MeV(×10<sup>4</sup>)", 22, "right")
text(404, 239, "130 MeV(×10<sup>2</sup>)", 22, "right")
text(394, 304, "146 MeV", 22, "right")
text(394, 404, "386 MeV", 22, "right")
text(396, 432, "(×10<sup>-2</sup>)", 22, "right")
text(176, 422, "CC", 24, "right")
sample(190, 218, 422, RED, "solid")
text(176, 449, "DWBA", 24, "right")
sample(190, 218, 449, GREEN, DASH_G)

# panel 2 legend
text(764, 49, "CC", 24, "right")
sample(778, 807, 49, RED, "solid")
text(764, 76, "DWBA", 24, "right")
sample(778, 807, 75, GREEN, DASH_G)
text(763, 106, "exp:130 MeV(×10<sup>2</sup>)", 24, "right")
fig.add_shape(type="circle", xref="paper", yref="paper", x0=789 / W, x1=795 / W,
              y0=1 - 106 / H, y1=1 - 100 / H, line=dict(color=GREY, width=1))

# panel 3 legend
text(1195, 49, "CC", 24, "right")
sample(1209, 1238, 49, RED, "solid")
text(1195, 76, "DWBA", 24, "right")
sample(1209, 1238, 75, GREEN, DASH_G)

# panel 4 legend
text(333, 603, "CC", 24, "right")
sample(348, 376, 602, RED, "solid")
text(333, 630, "DWBA", 24, "right")
sample(348, 376, 629, GREEN, DASH_G)
text(333, 659, "exp:400 MeV(×10<sup>-2</sup>)", 25, "right")
fig.add_shape(type="rect", xref="paper", yref="paper", x0=359 / W, x1=365 / W,
              y0=1 - 662 / H, y1=1 - 656 / H, line=dict(color="black", width=0), fillcolor="black")

# panel 5 legend
text(690, 658, "CC:0", 24, "right")
text(692, 658, "+<br>1-5", 16, "left", align="left")
text(737, 658, ",2", 24, "right")
text(738, 658, "+<br>1-8", 16, "left", align="left")
text(764, 603, "CC", 24, "right")
sample(778, 807, 602, RED, "solid")
text(764, 630, "DWBA", 24, "right")
sample(778, 807, 629, GREEN, DASH_G5)
sample(778, 807, 656, BLUE, DASH_B)

fig.update_layout(width=W, height=H, margin=dict(l=0, r=0, t=0, b=0),
                  paper_bgcolor="white", plot_bgcolor="white", showlegend=False)

fig.write_html("out.html")
